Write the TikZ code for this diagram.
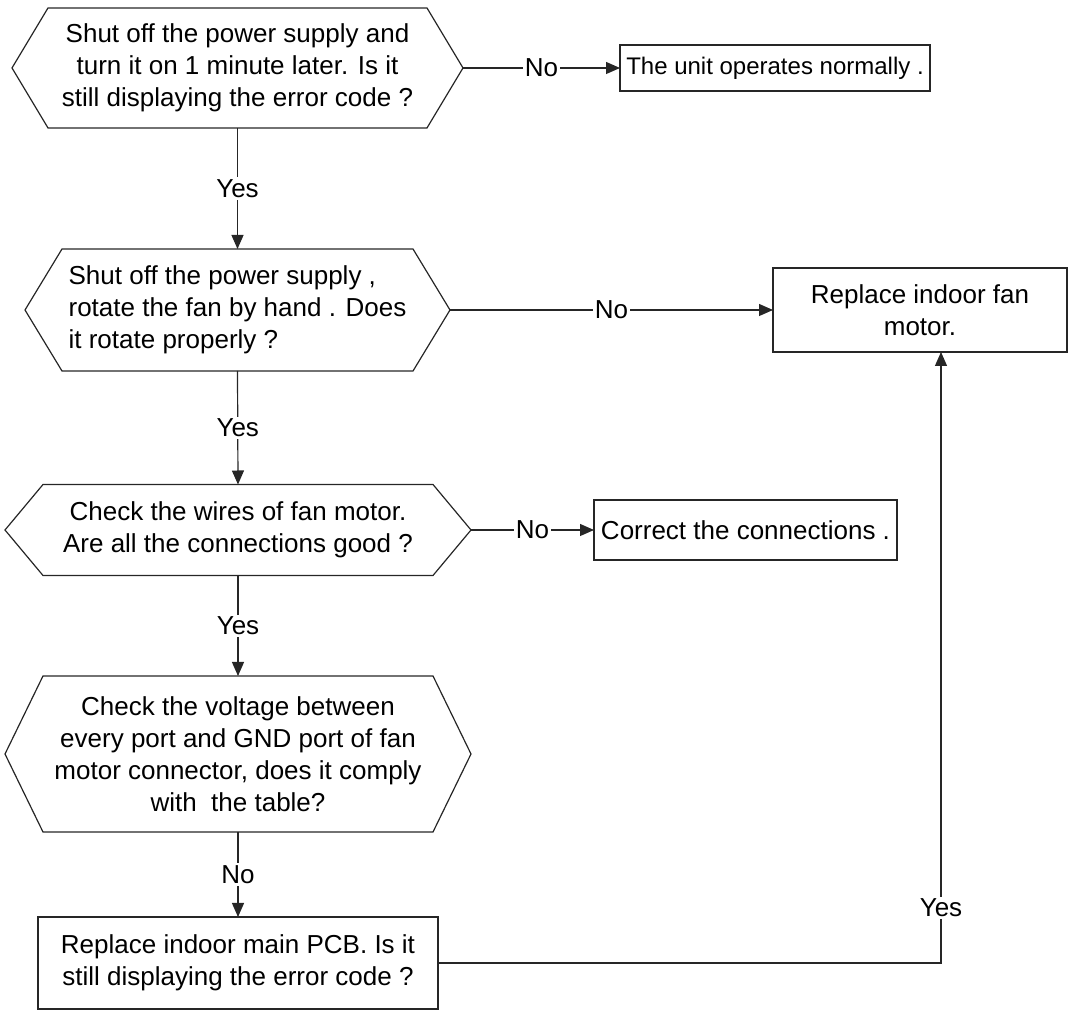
\documentclass[tikz,border=0pt]{standalone}
\usepackage{fontspec}
\setmainfont{Liberation Sans}
\usetikzlibrary{arrows.meta}

% hexagon round a plain node: #1 node name, #2 depth of the side points
\newcommand{\hexa}[2]{%
  \draw[line] (#1.north west) -- (#1.north east)
    -- ([xshift=#2]#1.east) coordinate (#1-r)
    -- (#1.south east) -- (#1.south west)
    -- ([xshift=-#2]#1.west) coordinate (#1-l) -- cycle;}

\begin{document}
\begin{tikzpicture}[x=0.5pt,y=-0.5pt,
    font=\fontsize{13}{16}\selectfont,
    hexnode/.style={inner sep=0,outer sep=0,align=center},
    boxnode/.style={draw=black!85,line width=0.6pt,inner sep=2pt,outer sep=0,align=center},
    line/.style={draw=black!85,line width=0.6pt},
    arr/.style={line,-{Triangle[length=7pt,width=6pt]}},
    lab/.style={fill=white,inner sep=1pt}]
  \useasboundingbox (0,0) rectangle (1072,1015);
  %\draw[help lines,step=50] (0,0) grid (1072,1015);

  \node[hexnode,minimum width=189.5pt,minimum height=60pt] (q1) at (237.5,68)
    {Shut off the power supply and\\ turn it on 1 minute later. Is it\\ still displaying the error code ?};
  \hexa{q1}{18pt}
  \node[hexnode,align=left,minimum width=175.5pt,minimum height=61pt] (q2) at (237.5,310)
    {Shut off the power supply ,\\ rotate the fan by hand . Does\\ it rotate properly ?};
  \hexa{q2}{18.5pt}
  \node[hexnode,minimum width=195pt,minimum height=45.5pt] (q3) at (238,530)
    {Check the wires of fan motor.\\ Are all the connections good ?};
  \hexa{q3}{19pt}
  \node[hexnode,minimum width=195pt,minimum height=78pt] (q4) at (238,754)
    {Check the voltage between\\ every port and GND port of fan\\ motor connector, does it comply\\ with~ the table?};
  \hexa{q4}{19pt}

  \node[boxnode,font=\fontsize{12}{16}\selectfont,minimum width=155pt,minimum height=23pt] (normal) at (775,68)
    {The unit operates normally .};
  \node[boxnode,minimum width=147pt,minimum height=42pt] (fanmotor) at (920,310)
    {Replace indoor fan\\ motor.};
  \node[boxnode,minimum width=151.5pt,minimum height=30pt] (correct) at (745.5,530)
    {Correct the connections .};
  \node[boxnode,minimum width=200pt,minimum height=46pt] (pcb) at (238,963)
    {Replace indoor main PCB. Is it\\ still displaying the error code ?};
  \coordinate (bend) at (941,963);

  \draw[arr] (q1-r) -- (normal.west) node[lab,midway] {No};
  \draw[arr] (q1.south) -- (q2.north) node[lab,midway] {Yes};
  \draw[arr] (q2-r) -- (fanmotor.west) node[lab,midway] {No};
  \draw[arr] (q2.south) -- (q3.north) node[lab,midway] {Yes};
  \draw[arr] (q3-r) -- (correct.west) node[lab,midway] {No};
  \draw[arr] (q3.south) -- (q4.north) node[lab,midway] {Yes};
  \draw[arr] (q4.south) -- (pcb.north) node[lab,midway] {No};
  \draw[arr] (pcb.east) -- (bend) -- (bend |- fanmotor.south) node[lab,pos=0.09] {Yes};
\end{tikzpicture}
\end{document}
